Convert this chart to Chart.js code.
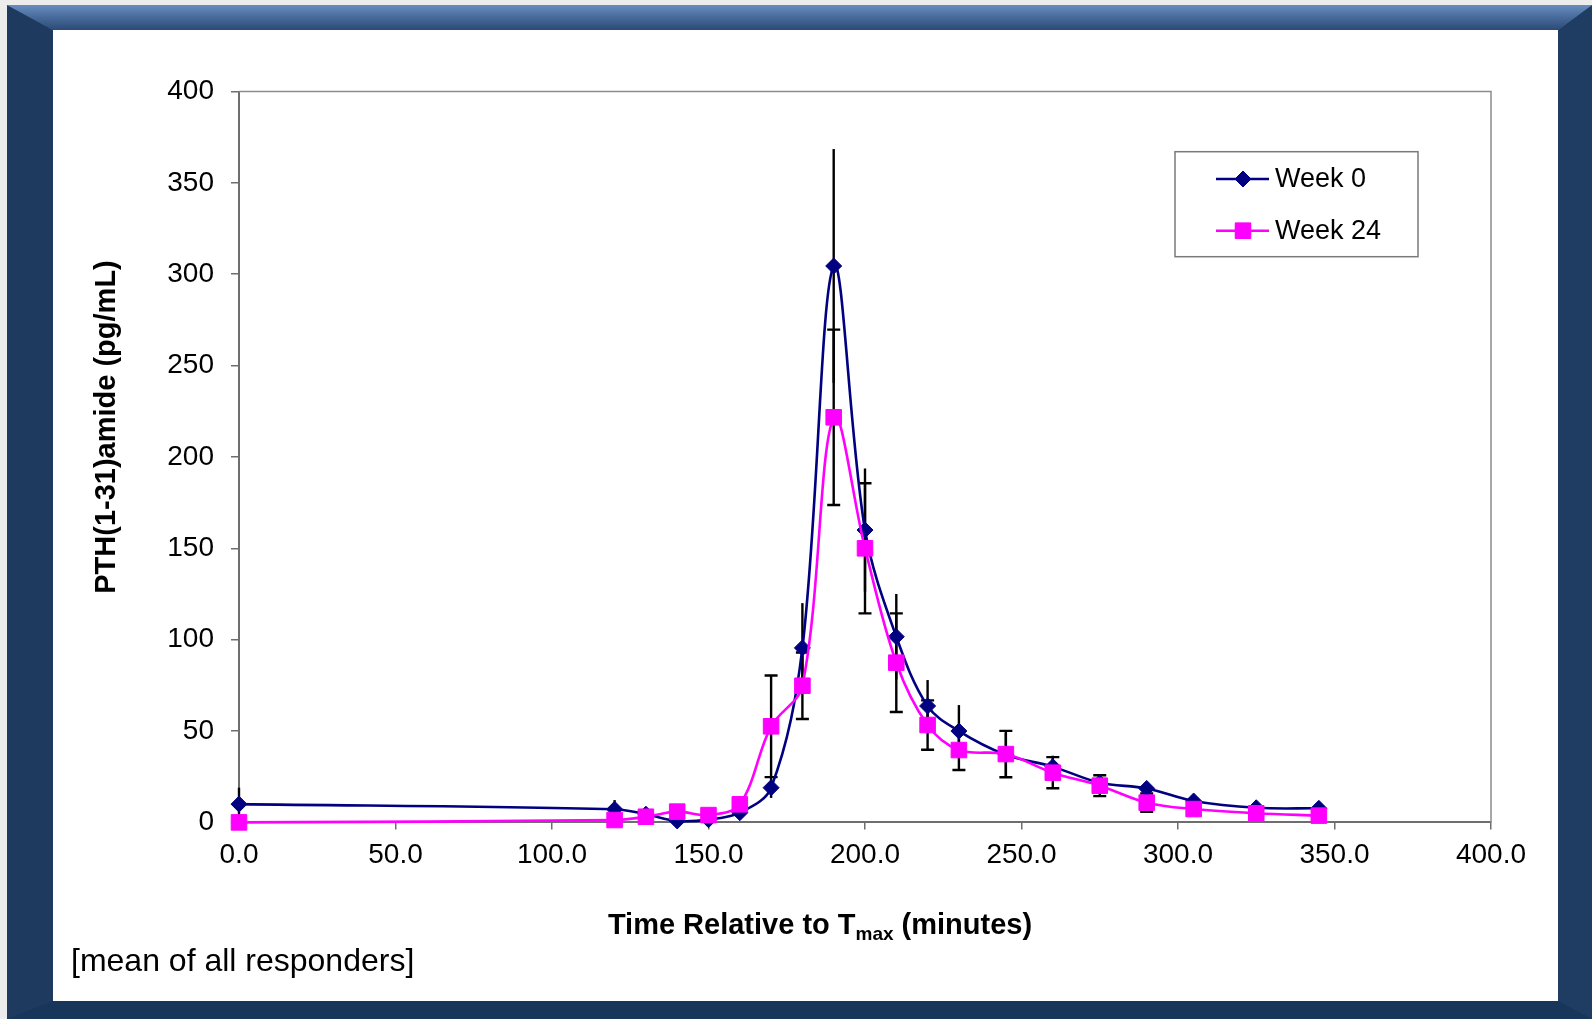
<!DOCTYPE html>
<html>
<head>
<meta charset="utf-8">
<script src="https://cdn.jsdelivr.net/npm/chart.js@4.4.1/dist/chart.umd.min.js"></script>
<style>
  html, body { margin: 0; padding: 0; }
  body { width: 1592px; height: 1019px; background: #ececec; position: relative; overflow: hidden; }
  #frame { position: absolute; left: 7px; top: 5px; width: 1585px; height: 1014px; box-sizing: border-box;
    border-style: solid; border-width: 25px 34px 18px 46px;
    border-color: #3f6290 #1f3d63 #18365a #1e3a5f; background: #ffffff; }
  #topbevel { position: absolute; left: 7px; top: 5px; width: 1585px; height: 25px;
    background: linear-gradient(to bottom, #6a8dc0 0%, #4a6d9e 45%, #2c4a75 100%);
    clip-path: polygon(0 0, 100% 0, calc(100% - 34px) 100%, 46px 100%); }
  #chart { position: absolute; left: 53px; top: 30px; }
</style>
</head>
<body>
<div id="frame"></div>
<div id="topbevel"></div>
<canvas id="chart" width="1505" height="971"></canvas>
<script>
// ---- data ----
const timePoints   = [0, 120, 130, 140, 150, 160, 170, 180, 190, 200, 210, 220, 230, 245, 260, 275, 290, 305, 325, 345];
const week0Values  = [10, 7.2, 4.5, 0.8, 1.5, 5.3, 19, 95.5, 304.5, 160, 101.6, 63.7, 50, 37, 30.5, 21.7, 18.6, 11.7, 8, 7.7];
const week0Errors  = [9, 5, 2, 1, 1, 2, 5.6, 24.5, 64, 33.7, 23.4, 14.2, 14.2, 12, 6, 4, 3, 2, 1, 1];
const week24Values = [0, 1.3, 3.1, 5.9, 4, 9.9, 52.6, 74.8, 221.7, 150, 87.4, 53.3, 39.6, 37.4, 27.2, 20.1, 10.8, 7.3, 5, 3.7];
const week24Errors = [0, 1, 1, 1, 1, 1.5, 27.8, 18.2, 48, 35.6, 27, 13.5, 10.9, 12.7, 8.5, 5.7, 5, 2, 1, 1];
const seriesNames  = ['Week 0', 'Week 24'];
const xTickValues  = [0, 50, 100, 150, 200, 250, 300, 350, 400];
const yTickValues  = [0, 50, 100, 150, 200, 250, 300, 350, 400];
const yAxisTitle   = 'PTH(1-31)amide (pg/mL)';
const xTitleMain   = 'Time Relative to T';
const xTitleSub    = 'max';
const xTitleTail   = ' (minutes)';
const footnote     = '[mean of all responders]';

const FONT = '"Liberation Sans", Arial, Helvetica, sans-serif';
const NAVY = '#000080';
const MAGENTA = '#FF00FF';

const toPoints = (vals) => timePoints.map((t, i) => ({ x: t, y: vals[i] }));

const errorSets = [
  { values: week0Values, errors: week0Errors, caps: false },
  { values: week24Values, errors: week24Errors, caps: true }
];

const errorBarPlugin = {
  id: 'errorBars',
  beforeDatasetsDraw(chart) {
    const { ctx, scales: { x, y } } = chart;
    ctx.save();
    ctx.strokeStyle = '#000000';
    ctx.lineWidth = 2.4;
    errorSets.forEach((set) => {
      timePoints.forEach((t, i) => {
        const e = set.errors[i];
        if (!e) return;
        const px = x.getPixelForValue(t);
        const yTop = y.getPixelForValue(set.values[i] + e);
        const yBot = y.getPixelForValue(Math.max(0, set.values[i] - e));
        ctx.beginPath();
        ctx.moveTo(px, yTop); ctx.lineTo(px, yBot);
        if (set.caps) {
          ctx.moveTo(px - 6.5, yTop); ctx.lineTo(px + 6.5, yTop);
          ctx.moveTo(px - 6.5, yBot); ctx.lineTo(px + 6.5, yBot);
        }
        ctx.stroke();
      });
    });
    ctx.restore();
  }
};

const plotBoxPlugin = {
  id: 'plotBox',
  beforeDatasetsDraw(chart) {
    const { ctx, chartArea: a } = chart;
    ctx.save();
    ctx.strokeStyle = '#8c8c8c';
    ctx.lineWidth = 1.5;
    ctx.beginPath();
    ctx.moveTo(a.left, a.top); ctx.lineTo(a.right, a.top); ctx.lineTo(a.right, a.bottom);
    ctx.stroke();
    ctx.restore();
  }
};

const textPlugin = {
  id: 'texts',
  afterDraw(chart) {
    const { ctx } = chart;
    ctx.save();
    ctx.fillStyle = '#000000';
    // y axis title
    ctx.save();
    ctx.translate(54, 397);
    ctx.rotate(-Math.PI / 2);
    ctx.font = 'bold 29px ' + FONT;
    ctx.textAlign = 'center';
    ctx.textBaseline = 'middle';
    ctx.fillText(yAxisTitle, 0, 0);
    ctx.restore();
    // x axis title with subscript
    const mainFont = 'bold 29px ' + FONT;
    const subFont = 'bold 19px ' + FONT;
    ctx.font = mainFont; const w1 = ctx.measureText(xTitleMain).width;
    ctx.font = subFont;  const w2 = ctx.measureText(xTitleSub).width;
    ctx.font = mainFont; const w3 = ctx.measureText(xTitleTail).width;
    let sx = 767 - (w1 + w2 + w3) / 2;
    const ty = 896;
    ctx.textAlign = 'left';
    ctx.textBaseline = 'middle';
    ctx.font = mainFont; ctx.fillText(xTitleMain, sx, ty); sx += w1;
    ctx.font = subFont;  ctx.fillText(xTitleSub, sx, ty + 9); sx += w2;
    ctx.font = mainFont; ctx.fillText(xTitleTail, sx, ty);
    // footnote
    ctx.font = '32px ' + FONT;
    ctx.fillText(footnote, 18, 932);
    // legend
    const lx = 1122, ly = 121.7, lw = 243, lh = 105;
    ctx.strokeStyle = '#7a7a7a';
    ctx.lineWidth = 1.5;
    ctx.strokeRect(lx, ly, lw, lh);
    const rows = [
      { y: 149, color: NAVY, style: 'rectRot', r: 8 },
      { y: 200.7, color: MAGENTA, style: 'rect', r: 11 }
    ];
    rows.forEach((row, i) => {
      ctx.strokeStyle = row.color;
      ctx.lineWidth = 2.5;
      ctx.beginPath(); ctx.moveTo(1163, row.y); ctx.lineTo(1216, row.y); ctx.stroke();
      ctx.fillStyle = row.color;
      ctx.lineWidth = 1;
      Chart.helpers.drawPoint(ctx, { pointStyle: row.style, radius: row.r, borderWidth: 1, rotation: 0 }, 1190, row.y);
      ctx.fill();
      ctx.fillStyle = '#000000';
      ctx.font = '27px ' + FONT;
      ctx.textAlign = 'left';
      ctx.textBaseline = 'middle';
      ctx.fillText(seriesNames[i], 1222, row.y + 1);
    });
    ctx.restore();
  }
};

new Chart(document.getElementById('chart').getContext('2d'), {
  type: 'scatter',
  data: {
    datasets: [
      { label: seriesNames[0], data: toPoints(week0Values), showLine: true, borderColor: NAVY, backgroundColor: NAVY,
        borderWidth: 2.6, pointStyle: 'rectRot', pointRadius: 8, pointBorderWidth: 1, pointBorderColor: NAVY,
        tension: 0.35, clip: false, order: 1 },
      { label: seriesNames[1], data: toPoints(week24Values), showLine: true, borderColor: MAGENTA, backgroundColor: MAGENTA,
        borderWidth: 2.6, pointStyle: 'rect', pointRadius: 11, pointBorderWidth: 1, pointBorderColor: MAGENTA,
        tension: 0.35, clip: false, order: 0 }
    ]
  },
  options: {
    responsive: false,
    animation: false,
    devicePixelRatio: 1,
    layout: { padding: { top: 61.5, right: 67, left: 0, bottom: 0 } },
    plugins: { legend: { display: false }, tooltip: { enabled: false } },
    scales: {
      x: {
        type: 'linear', min: 0, max: 400,
        afterBuildTicks(s) { s.ticks = xTickValues.map(v => ({ value: v })); },
        ticks: { callback: v => Number(v).toFixed(1), color: '#000', font: { family: FONT, size: 28 }, padding: 9, maxRotation: 0, autoSkip: false },
        grid: { drawOnChartArea: false, drawTicks: true, tickLength: 7, color: '#6e6e6e', lineWidth: 1.5 },
        border: { display: true, color: '#6e6e6e', width: 2 },
        afterFit(s) { s.height = 971 - 792.4; }
      },
      y: {
        type: 'linear', min: 0, max: 400,
        afterBuildTicks(s) { s.ticks = yTickValues.map(v => ({ value: v })); },
        ticks: { color: '#000', font: { family: FONT, size: 28 }, padding: 17 },
        grid: { drawOnChartArea: false, drawTicks: true, tickLength: 8, color: '#6e6e6e', lineWidth: 1.5 },
        border: { display: true, color: '#6e6e6e', width: 2 },
        afterFit(s) { s.width = 186; }
      }
    }
  },
  plugins: [errorBarPlugin, plotBoxPlugin, textPlugin]
});
</script>
</body>
</html>
